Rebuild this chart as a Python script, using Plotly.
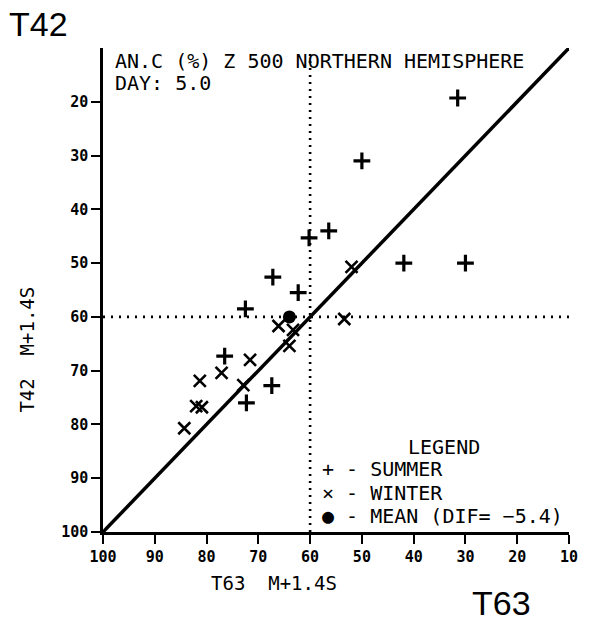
import plotly.graph_objects as go

# ---- data ----
summer_x = [31.5, 50.0, 56.4, 60.2, 41.9, 30.0, 62.3, 67.2, 72.5, 76.5, 67.4, 72.3]
summer_y = [19.3, 31.0, 44.0, 45.3, 50.0, 50.0, 55.5, 52.6, 58.5, 67.3, 72.8, 76.0]
winter_x = [52.0, 53.4, 66.1, 63.3, 64.0, 71.6, 77.1, 81.3, 72.9, 82.0, 80.9, 84.3]
winter_y = [50.7, 60.4, 61.7, 62.4, 65.4, 68.0, 70.4, 71.9, 72.7, 76.6, 76.8, 80.7]
mean_x = [64.0]
mean_y = [60.0]
diag_xy = [100, 10]
ref_x = 60
ref_y = 60
x_ticks = [100, 90, 80, 70, 60, 50, 40, 30, 20, 10]
y_ticks = [20, 30, 40, 50, 60, 70, 80, 90, 100]

MONO = "DejaVu Sans Mono"
SANS = "Liberation Sans"

fig = go.Figure()

# diagonal
fig.add_trace(go.Scatter(x=diag_xy, y=diag_xy, mode="lines",
                         line=dict(color="black", width=3.5), showlegend=False,
                         hoverinfo="skip"))
fig.add_trace(go.Scatter(x=summer_x, y=summer_y, mode="markers", name="SUMMER",
                         marker=dict(symbol="cross-thin", size=12,
                                     line=dict(color="black", width=3.2)),
                         showlegend=False))
fig.add_trace(go.Scatter(x=winter_x, y=winter_y, mode="markers", name="WINTER",
                         marker=dict(symbol="x-thin", size=12,
                                     line=dict(color="black", width=2.6)),
                         showlegend=False))
fig.add_trace(go.Scatter(x=mean_x, y=mean_y, mode="markers", name="MEAN",
                         marker=dict(symbol="circle", size=13, color="black"),
                         showlegend=False))

# dotted reference lines
fig.add_shape(type="line", x0=ref_x, x1=ref_x, y0=100, y1=11,
              xref="x", yref="y", line=dict(color="black", width=2.6, dash="2px,5px"))
fig.add_shape(type="line", x0=100, x1=10, y0=ref_y, y1=ref_y,
              xref="x", yref="y", line=dict(color="black", width=2.6, dash="2px,6px"))

axis_common = dict(showgrid=False, zeroline=False, showline=True,
                   linecolor="black", linewidth=2.5, ticks="outside",
                   ticklen=9, tickwidth=2, tickcolor="black",
                   tickfont=dict(family=MONO, size=15, color="black"))

fig.update_xaxes(range=[100, 10], tickvals=x_ticks,
                 ticktext=["<b>%d</b>" % v for v in x_ticks], **axis_common)
fig.update_yaxes(range=[100, 10], tickvals=y_ticks,
                 ticktext=["<b>%d</b>" % v for v in y_ticks], **axis_common)

def ann(text, x, y, size, family=MONO, xanchor="left", textangle=0):
    fig.add_annotation(text=text, x=x, y=y, xref="paper", yref="paper",
                       xanchor=xanchor, yanchor="middle", showarrow=False,
                       textangle=textangle,
                       font=dict(family=family, size=size, color="black"))

ann("T42", -0.206, 1.050, 34, family=SANS)
ann("T63", 0.787, -0.147, 34, family=SANS)
ann("AN.C (%) Z 500 NORTHERN HEMISPHERE", 0.021, 0.973, 20)
ann("DAY: 5.0", 0.021, 0.928, 20)
ann("T63  M+1.4S", 0.368, -0.105, 19, xanchor="center")
ann("T42  M+1.4S", -0.164, 0.376, 19, xanchor="center", textangle=-90)
ann("LEGEND", 0.731, 0.176, 20, xanchor="center")
ann("+ - SUMMER", 0.465, 0.130, 20)
ann("× - WINTER", 0.465, 0.081, 20)
ann("● - MEAN (DIF= −5.4)", 0.465, 0.033, 20)

fig.update_layout(width=590, height=621,
                  margin=dict(l=103, r=12, t=48, b=89),
                  paper_bgcolor="white", plot_bgcolor="white",
                  showlegend=False)

fig.write_html("out.html")
